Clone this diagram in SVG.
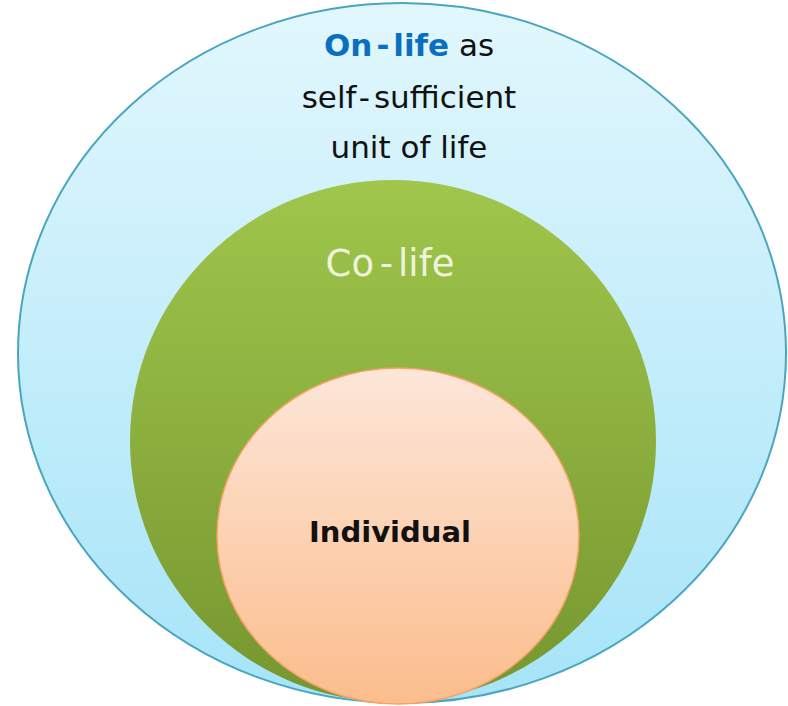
<svg xmlns="http://www.w3.org/2000/svg" width="788" height="706" viewBox="0 0 788 706">
<defs>
<linearGradient id="gBlue" x1="0" y1="0" x2="0" y2="1">
<stop offset="0" stop-color="#e2f7fd"/>
<stop offset="1" stop-color="#a6e4f8"/>
</linearGradient>
<linearGradient id="gGreen" x1="0" y1="0" x2="0" y2="1">
<stop offset="0" stop-color="#a0c64c"/>
<stop offset="1" stop-color="#76962f"/>
</linearGradient>
<linearGradient id="gPeach" x1="0" y1="0" x2="0" y2="1">
<stop offset="0" stop-color="#fde6d9"/>
<stop offset="1" stop-color="#fbbd8c"/>
</linearGradient>
</defs>
<style>
text{font-family:"DejaVu Sans","Noto Sans",sans-serif;text-anchor:middle}
.t{font-size:31px;fill:#111}
</style>
<g id="onlife">
<ellipse cx="402" cy="353" rx="384" ry="350" fill="url(#gBlue)" stroke="#4aa6be" stroke-width="2"/>
<text class="t" x="409" y="56"><tspan fill="#0a6fbf" font-weight="bold">On<tspan dx="4">-</tspan><tspan dx="4">life</tspan></tspan> as</text>
<text class="t" x="409" y="108">self<tspan dx="4">-</tspan><tspan dx="4">sufficient</tspan></text>
<text class="t" x="409" y="158">unit of life</text>
</g>
<g id="colife">
<ellipse cx="393" cy="441" rx="263" ry="261" fill="url(#gGreen)"/>
<text x="390" y="276" font-size="37" fill="#eef3dc">Co<tspan dx="5">-</tspan><tspan dx="5">life</tspan></text>
</g>
<g id="individual">
<ellipse cx="398" cy="536" rx="181" ry="168" fill="url(#gPeach)" stroke="#f2a366" stroke-width="1.5"/>
<text x="390" y="542" font-size="29" font-weight="bold" fill="#111">Individual</text>
</g>
<g id="connectors"/>
</svg>
